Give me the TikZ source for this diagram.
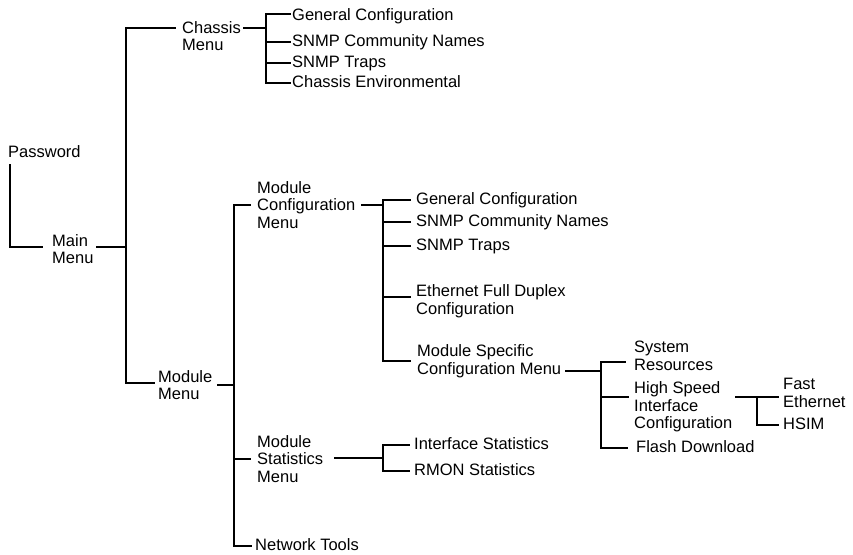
\documentclass[tikz,border=0pt]{standalone}
\usepackage{fontspec}
\setmainfont{Liberation Sans}

\begin{document}
\begin{tikzpicture}[x=1pt, y=-1pt,
    menu/.style={anchor=west, inner sep=0pt, align=left},
    leaf/.style={anchor=west, inner sep=0pt, text height=12pt, text depth=4pt},
    link/.style={line width=1.8pt, line cap=rect}]
    \useasboundingbox (0,0) rectangle (853,554);
    \fontsize{16.5}{17.5}\selectfont

    % Menus
    \node[leaf] (pass) at (8,153) {Password};
    \node[menu] (main) at (52,249) {Main\\Menu};
    \node[menu] (chassis) at (182,36) {Chassis\\Menu};
    \node[menu] (modmenu) at (158,385) {Module\\Menu};
    \node[menu] (modcfg) at (257,205) {Module\\Configuration\\Menu};
    \node[menu] (modstat) at (257,459) {Module\\Statistics\\Menu};
    \node[leaf] (nettools) at (255,546) {Network Tools};

    % Chassis items
    \node[leaf] (cgen) at (292,16) {General Configuration};
    \node[leaf] (csnmp) at (292,42) {SNMP Community Names};
    \node[leaf] (ctraps) at (292,63) {SNMP Traps};
    \node[leaf] (cenv) at (292,83) {Chassis Environmental};

    % Module configuration items
    \node[leaf] (mgen) at (416,200) {General Configuration};
    \node[leaf] (msnmp) at (416,222) {SNMP Community Names};
    \node[leaf] (mtraps) at (416,246) {SNMP Traps};
    \node[menu] (meth) at (416,301) {Ethernet Full Duplex\\Configuration};
    \node[menu] (mspec) at (417,361) {Module Specific\\Configuration Menu};

    % Module specific items
    \node[menu] (sysres) at (634,356) {System\\Resources};
    \node[menu] (hsic) at (634,407) {High Speed\\Interface\\Configuration};
    \node[leaf] (flash) at (636,448) {Flash Download};
    \node[menu] (fasteth) at (783,393) {Fast\\Ethernet};
    \node[leaf] (hsim) at (783,425) {HSIM};

    % Statistics items
    \node[leaf] (istat) at (414,445) {Interface Statistics};
    \node[leaf] (rmon) at (414,471) {RMON Statistics};

    % Junctions
    \coordinate (jmain) at (126,247);
    \coordinate (jch) at (266,28);
    \coordinate (jmod) at (234,385);
    \coordinate (jcfg) at (383,205);
    \coordinate (jspec) at (601,371);
    \coordinate (jhs) at (757,397);
    \coordinate (jstat) at (383,458);

    % Password to main menu
    \draw[link] ([xshift=2pt,yshift=-4pt]pass.south west) |- ([xshift=-10pt,yshift=2pt]main.west);
    \draw[link] ([xshift=3pt,yshift=2pt]main.east) -- (jmain);
    \draw[link] ([xshift=-7pt,yshift=8pt]chassis.west) -| (jmain) |- ([xshift=-4pt,yshift=2pt]modmenu.west);

    % Chassis menu
    \draw[link] ([xshift=3pt,yshift=8pt]chassis.east) -- (jch);
    \draw[link] ([xshift=-2pt,yshift=2pt]cgen.west) -| (jch |- cenv.west) -- ([xshift=-2pt]cenv.west);
    \draw[link] (jch |- csnmp.west) -- ([xshift=-2pt]csnmp.west);
    \draw[link] (jch |- ctraps.west) -- ([xshift=-2pt]ctraps.west);

    % Module menu
    \draw[link] ([xshift=5pt]modmenu.east) -- (jmod);
    \draw[link] ([xshift=-7pt]modcfg.west) -| (jmod) |- ([xshift=-4pt]nettools.west);
    \draw[link] (jmod |- modstat.west) -- ([xshift=-7pt]modstat.west);

    % Module configuration menu
    \draw[link] ([xshift=6pt]modcfg.east) -- (jcfg);
    \draw[link] ([xshift=-6pt]mgen.west) -| (jcfg |- mspec.west) -- ([xshift=-7pt]mspec.west);
    \draw[link] (jcfg |- msnmp.west) -- ([xshift=-6pt]msnmp.west);
    \draw[link] (jcfg |- mtraps.west) -- ([xshift=-6pt]mtraps.west);
    \draw[link] ([yshift=4pt]jcfg |- meth.west) -- ([xshift=-6pt,yshift=4pt]meth.west);

    % Module specific configuration menu
    \draw[link] ([xshift=4pt,yshift=-10pt]mspec.east) -- (jspec);
    \draw[link] ([xshift=-9pt,yshift=-6pt]sysres.west) -| (jspec |- flash.west) -- ([xshift=-9pt]flash.west);
    \draw[link] ([yshift=10pt]jspec |- hsic.west) -- ([xshift=-6pt,yshift=10pt]hsic.west);

    % High speed interface configuration
    \draw[link] ([xshift=3pt,yshift=10pt]hsic.east) -- (jhs);
    \draw[link] ([xshift=-5pt,yshift=-4pt]fasteth.west) -| (jhs |- hsim.west) -- ([xshift=-5pt]hsim.west);

    % Module statistics menu
    \draw[link] ([xshift=11pt,yshift=1pt]modstat.east) -- (jstat);
    \draw[link] ([xshift=-5pt]istat.west) -| (jstat |- rmon.west) -- ([xshift=-5pt]rmon.west);
\end{tikzpicture}
\end{document}
